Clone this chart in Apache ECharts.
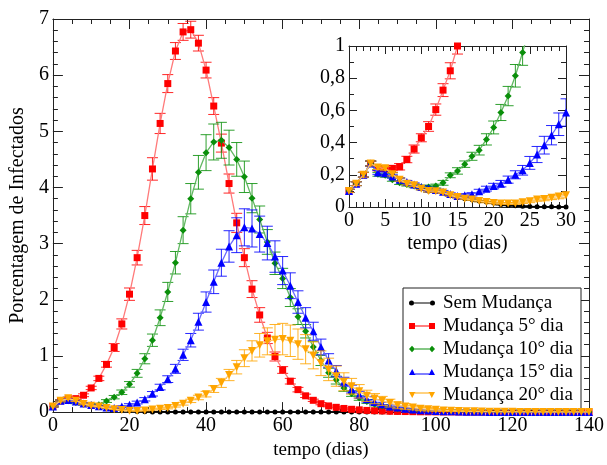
<!DOCTYPE html>
<html><head><meta charset="utf-8">
<script src="https://cdn.jsdelivr.net/npm/echarts@6/dist/echarts.min.js"></script>
<style>html,body{margin:0;padding:0;background:#fff}#c{width:607px;height:465px}</style>
</head><body><div id="c"></div>
<script>
// ---------------- DATA ----------------
const seriesNames = ['Sem Mudança', 'Mudança 5° dia', 'Mudança 10° dia', 'Mudança 15° dia', 'Mudança 20° dia'];

// main plot: every 2 days, 0..140
const daysMain = [0,2,4,6,8,10,12,14,16,18,20,22,24,26,28,30,32,34,36,38,40,42,44,46,48,50,52,54,56,58,60,62,64,66,68,70,72,74,76,78,80,82,84,86,88,90,92,94,96,98,100,102,104,106,108,110,112,114,116,118,120,122,124,126,128,130,132,134,136,138,140];

const semMain = [0.10,0.20,0.245,0.203,0.145,0.114,0.098,0.073,0.052,0.037,
 0.025,0.012,0.007,0.004,0.003,0.002,0.001,0,0,0,
 0,0,0,0,0,0,0,0,0,0, 0,0,0,0,0,0,0,0,0,0, 0,0,0,0,0,0,0,0,0,0, 0,0,0,0,0,0,0,0,0,0, 0];
const semErr = [0.01,0.015,0.02,0.015,0.012,0.01,0.008,0.006,0.005,0.005,
 0.005,0.004,0.003,0.002,0.002,0.001,0.001,0,0,0,
 0,0,0,0,0,0,0,0,0,0, 0,0,0,0,0,0,0,0,0,0, 0,0,0,0,0,0,0,0,0,0, 0,0,0,0,0,0,0,0,0,0, 0];

const m5Main = [0.10,0.20,0.24,0.24,0.30,0.43,0.60,0.85,1.15,1.57,
 2.10,2.75,3.50,4.33,5.14,5.85,6.43,6.77,6.81,6.57,
 6.09,5.45,4.79,4.07,3.37,2.75,2.19,1.73,1.32,0.99,
 0.75,0.55,0.40,0.29,0.21,0.15,0.11,0.085,0.065,0.05,
 0.04,0.03,0.025,0.02,0.015,0.012,0.01,0.008,0.006,0.005,
 0.004,0.003,0.003,0.002,0.002,0.002,0.001,0.001,0.001,0.001,
 0,0,0,0,0,0,0,0,0,0,0];
const m5Err = [0.01,0.015,0.02,0.02,0.025,0.03,0.04,0.05,0.07,0.09,
 0.11,0.13,0.16,0.2,0.18,0.16,0.15,0.15,0.15,0.14,
 0.14,0.15,0.16,0.17,0.17,0.16,0.15,0.13,0.1,0.08,
 0.06,0.05,0.04,0.03,0.02,0.02,0.015,0.01,0.01,0.01,
 0.008,0.006,0.005,0.005,0.004,0.003,0.003,0.002,0.002,0.002,
 0.002,0.001,0.001,0.001,0.001,0.001,0.001,0.001,0.001,0.001,
 0,0,0,0,0,0,0,0,0,0,0];

const m10Main = [0.10,0.20,0.203,0.17,0.14,0.125,0.13,0.197,0.266,0.353,
 0.494,0.69,0.95,1.28,1.68,2.14,2.66,3.24,3.80,4.27,
 4.62,4.81,4.84,4.71,4.50,4.19,3.81,3.43,3.03,2.65,
 2.38,2.04,1.70,1.44,1.16,0.92,0.70,0.57,0.43,0.33,
 0.25,0.19,0.14,0.11,0.08,0.06,0.045,0.035,0.025,0.02,
 0.015,0.012,0.01,0.008,0.006,0.005,0.004,0.003,0.003,0.002,
 0.002,0.002,0.001,0.001,0.001,0.001,0,0,0,0,0];
const m10Err = [0.01,0.015,0.02,0.02,0.015,0.015,0.02,0.025,0.03,0.04,
 0.05,0.07,0.09,0.11,0.14,0.17,0.2,0.24,0.27,0.3,
 0.32,0.32,0.32,0.31,0.3,0.28,0.26,0.24,0.22,0.2,
 0.18,0.16,0.14,0.12,0.1,0.09,0.08,0.07,0.06,0.05,
 0.04,0.035,0.03,0.025,0.02,0.015,0.012,0.01,0.008,0.006,
 0.005,0.004,0.004,0.003,0.003,0.002,0.002,0.002,0.002,0.001,
 0.001,0.001,0.001,0.001,0.001,0.001,0.001,0.001,0.001,0.001,0.001];

const m15Main = [0.10,0.20,0.215,0.19,0.155,0.125,0.105,0.08,0.073,0.098,
 0.13,0.17,0.228,0.326,0.446,0.587,0.77,1.02,1.28,1.61,
 1.96,2.32,2.66,2.95,3.15,3.29,3.27,3.17,3.01,2.77,
 2.52,2.25,1.96,1.68,1.44,1.16,0.92,0.73,0.54,0.41,
 0.31,0.23,0.18,0.14,0.10,0.08,0.06,0.045,0.035,0.027,
 0.02,0.016,0.013,0.01,0.008,0.006,0.005,0.004,0.004,0.003,
 0.003,0.002,0.002,0.002,0.001,0.001,0.001,0.001,0,0,0];
const m15Err = [0.01,0.015,0.02,0.02,0.015,0.015,0.012,0.01,0.01,0.015,
 0.02,0.025,0.03,0.04,0.05,0.06,0.08,0.1,0.12,0.15,
 0.18,0.21,0.24,0.28,0.31,0.33,0.33,0.32,0.3,0.28,
 0.25,0.23,0.2,0.18,0.16,0.14,0.12,0.1,0.08,0.07,
 0.06,0.05,0.04,0.035,0.03,0.025,0.02,0.015,0.012,0.01,
 0.008,0.006,0.005,0.004,0.004,0.003,0.003,0.002,0.002,0.002,
 0.002,0.001,0.001,0.001,0.001,0.001,0.001,0.001,0.001,0.001,0.001];

const m20Main = [0.10,0.20,0.245,0.203,0.145,0.114,0.098,0.073,0.052,0.037,
 0.025,0.021,0.029,0.046,0.058,0.073,0.11,0.15,0.20,0.26,
 0.32,0.41,0.52,0.66,0.80,0.96,1.09,1.19,1.26,1.29,
 1.30,1.27,1.21,1.12,1.01,0.87,0.76,0.64,0.54,0.46,
 0.37,0.29,0.24,0.20,0.16,0.12,0.10,0.08,0.06,0.05,
 0.04,0.03,0.025,0.02,0.016,0.013,0.01,0.008,0.007,0.006,
 0.005,0.004,0.003,0.003,0.002,0.002,0.002,0.001,0.001,0.001,0.001];
const m20Err = [0.01,0.015,0.02,0.015,0.012,0.01,0.008,0.006,0.005,0.005,
 0.005,0.005,0.008,0.01,0.012,0.015,0.02,0.025,0.03,0.04,
 0.05,0.06,0.08,0.1,0.12,0.15,0.18,0.21,0.24,0.27,
 0.28,0.28,0.27,0.26,0.24,0.22,0.2,0.18,0.16,0.14,
 0.12,0.1,0.09,0.08,0.07,0.06,0.05,0.04,0.035,0.03,
 0.025,0.02,0.015,0.012,0.01,0.008,0.007,0.006,0.005,0.004,
 0.004,0.003,0.003,0.002,0.002,0.002,0.002,0.001,0.001,0.001,0.001];

// inset: daily, 0..30
const daysInset = [0,1,2,3,4,5,6,7,8,9,10,11,12,13,14,15,16,17,18,19,20,21,22,23,24,25,26,27,28,29,30];
const semInset = [0.10,0.145,0.20,0.27,0.245,0.24,0.203,0.17,0.145,0.135,0.114,0.10,0.098,0.09,0.073,0.062,0.052,0.046,0.037,0.031,0.025,0.015,0.01,0.007,0.005,0.003,0.002,0.001,0.001,0,0];
const semInsetErr = [0.01,0.012,0.015,0.015,0.012,0.012,0.01,0.01,0.008,0.008,0.007,0.007,0.006,0.006,0.005,0.005,0.004,0.004,0.004,0.003,0.003,0.003,0.002,0.002,0.002,0.001,0.001,0.001,0.001,0,0];
const m5Inset = [0.10,0.145,0.20,0.27,0.24,0.235,0.24,0.25,0.295,0.36,0.43,0.50,0.605,0.726,0.846,1.0];
const m5InsetErr = [0.01,0.012,0.015,0.015,0.015,0.015,0.015,0.02,0.02,0.025,0.025,0.03,0.035,0.04,0.05,0.05];
const m10Inset = [0.10,0.145,0.20,0.27,0.203,0.197,0.17,0.15,0.14,0.13,0.125,0.125,0.13,0.15,0.197,0.224,0.266,0.315,0.353,0.42,0.494,0.587,0.689,0.815,0.96,1.12];
const m10InsetErr = [0.01,0.012,0.015,0.015,0.012,0.012,0.01,0.01,0.01,0.01,0.01,0.01,0.012,0.015,0.015,0.02,0.02,0.025,0.03,0.035,0.04,0.05,0.06,0.07,0.08,0.09];
const m15Inset = [0.10,0.145,0.20,0.27,0.215,0.21,0.19,0.17,0.155,0.14,0.125,0.115,0.105,0.095,0.08,0.068,0.073,0.079,0.098,0.114,0.13,0.145,0.17,0.20,0.228,0.274,0.326,0.384,0.446,0.514,0.587];
const m15InsetErr = [0.01,0.012,0.015,0.015,0.012,0.012,0.01,0.01,0.01,0.01,0.008,0.008,0.008,0.008,0.008,0.008,0.01,0.01,0.012,0.015,0.017,0.02,0.022,0.025,0.03,0.04,0.05,0.055,0.06,0.07,0.085];
const m20Inset = [0.10,0.145,0.20,0.27,0.245,0.24,0.203,0.17,0.145,0.135,0.114,0.10,0.098,0.09,0.073,0.062,0.052,0.046,0.037,0.031,0.025,0.022,0.021,0.022,0.029,0.035,0.046,0.05,0.058,0.065,0.073];
const m20InsetErr = [0.01,0.012,0.015,0.015,0.012,0.012,0.01,0.01,0.008,0.008,0.007,0.007,0.006,0.006,0.005,0.005,0.005,0.005,0.005,0.005,0.005,0.005,0.006,0.006,0.007,0.008,0.01,0.011,0.012,0.014,0.016];

// ---------------- STYLE ----------------
const FONT = 'Liberation Serif';
const colors = ['#000000', '#ff0000', '#0a8f0a', '#0000ff', '#ffa500'];
const lineColors = ['#000000', '#ff7a7a', '#62b862', '#6a6aff', '#ffc766'];
const symbols = ['circle', 'rect', 'diamond', 'triangle', 'triangle'];
const symSizes = [5, 7, 7, 8, 8];
const symRot = [0, 0, 0, 0, 180];
const legendIcons = [
  'path://M0,0 L0,0 Z M26,7 L26,7 Z M0,3.5 A2.5,2.5 0 1 1 5,3.5 A2.5,2.5 0 1 1 0,3.5 Z M5,3 L21,3 L21,4 L5,4 Z M21,3.5 A2.5,2.5 0 1 1 26,3.5 A2.5,2.5 0 1 1 21,3.5 Z',
  'path://M0,0 L0,0 Z M26,7 L26,7 Z M0,0.5 L6,0.5 L6,6.5 L0,6.5 Z M6,3 L20,3 L20,4 L6,4 Z M20,0.5 L26,0.5 L26,6.5 L20,6.5 Z',
  'path://M0,0 L0,0 Z M26,7 L26,7 Z M0,3.5 L3,0.3 L6,3.5 L3,6.7 Z M6,3 L20,3 L20,4 L6,4 Z M20,3.5 L23,0.3 L26,3.5 L23,6.7 Z',
  'path://M0,0 L0,0 Z M26,7 L26,7 Z M0,6.5 L3.2,0.5 L6.4,6.5 Z M6,5 L20,5 L20,6 L6,6 Z M19.6,6.5 L22.8,0.5 L26,6.5 Z',
  'path://M0,0 L0,0 Z M26,7 L26,7 Z M0,0.5 L6.4,0.5 L3.2,6.5 Z M6,1 L20,1 L20,2 L6,2 Z M19.6,0.5 L26,0.5 L22.8,6.5 Z'
];

const mainVals = [semMain, m5Main, m10Main, m15Main, m20Main];
const mainErrs = [semErr, m5Err, m10Err, m15Err, m20Err];
const insetVals = [semInset, m5Inset, m10Inset, m15Inset, m20Inset];
const insetErrs = [semInsetErr, m5InsetErr, m10InsetErr, m15InsetErr, m20InsetErr];

function errRender(color, half) {
  return function (params, api) {
    const x = api.value(0), y = api.value(1), e = api.value(2);
    const p1 = api.coord([x, y + e]);
    const p2 = api.coord([x, y - e]);
    const st = { stroke: color, lineWidth: 1, opacity: 0.85 };
    return {
      type: 'group',
      children: [
        { type: 'line', shape: { x1: p1[0], y1: p1[1], x2: p2[0], y2: p2[1] }, style: st },
        { type: 'line', shape: { x1: p1[0] - half, y1: p1[1], x2: p1[0] + half, y2: p1[1] }, style: st },
        { type: 'line', shape: { x1: p2[0] - half, y1: p2[1], x2: p2[0] + half, y2: p2[1] }, style: st }
      ]
    };
  };
}

const axisCol = '#222';
function axis(extra) {
  return Object.assign({
    type: 'value',
    axisLine: { show: true, onZero: false, lineStyle: { color: axisCol, width: 1 } },
    axisTick: { show: true, inside: true, length: 10, lineStyle: { color: axisCol } },
    minorTick: { show: true, length: 5, lineStyle: { color: axisCol } },
    splitLine: { show: false },
    minorSplitLine: { show: false },
    axisLabel: { show: true, color: '#000', fontFamily: FONT, fontSize: 20, margin: 4, showMinLabel: true, showMaxLabel: true },
    nameTextStyle: { color: '#000', fontFamily: FONT, fontSize: 19 }
  }, extra);
}

const series = [];
for (let s = 0; s < 5; s++) {
  // main errors
  series.push({
    type: 'custom', name: 'errMain' + s, xAxisIndex: 0, yAxisIndex: 0, clip: true, z: 2 + s,
    renderItem: errRender(colors[s], 5.5), encode: { x: 0, y: 1 },
    data: daysMain.map((d, i) => [d, mainVals[s][i], mainErrs[s][i]]),
    silent: true
  });
  series.push({
    type: 'line', name: seriesNames[s], xAxisIndex: 0, yAxisIndex: 0, z: 2 + s,
    data: daysMain.map((d, i) => [d, mainVals[s][i]]),
    symbol: symbols[s], symbolSize: symSizes[s], symbolRotate: symRot[s],
    itemStyle: { color: colors[s] }, lineStyle: { color: lineColors[s], width: 1.3 },
    showAllSymbol: true
  });
  // inset
  series.push({
    type: 'custom', name: 'errInset' + s, xAxisIndex: 2, yAxisIndex: 2, clip: true, z: 2 + s,
    renderItem: errRender(colors[s], 5.5), encode: { x: 0, y: 1 },
    data: insetVals[s].map((v, i) => [daysInset[i], v, insetErrs[s][i]]),
    silent: true
  });
  series.push({
    type: 'line', name: seriesNames[s], xAxisIndex: 2, yAxisIndex: 2, z: 2 + s, clip: true,
    data: insetVals[s].map((v, i) => [daysInset[i], v]),
    symbol: symbols[s], symbolSize: symSizes[s], symbolRotate: symRot[s],
    itemStyle: { color: colors[s] }, lineStyle: { color: lineColors[s], width: 1.3 },
    showAllSymbol: true
  });
}

const option = {
  animation: false,
  backgroundColor: '#fff',
  grid: [
    { left: 51, top: 19, width: 542, height: 404 },
    { left: 349, top: 46, width: 217, height: 161 }
  ],
  xAxis: [
    axis({ gridIndex: 0, position: 'bottom', min: 0, max: 140, interval: 20, minorTick: { show: true, splitNumber: 4, length: 5, lineStyle: { color: axisCol } },
      name: 'tempo (dias)', nameLocation: 'middle', nameGap: 23 }),
    axis({ gridIndex: 0, position: 'top', min: 0, max: 140, interval: 20, minorTick: { show: true, splitNumber: 4, length: 5, lineStyle: { color: axisCol } },
      axisLabel: { show: false } }),
    axis({ gridIndex: 1, position: 'bottom', min: 0, max: 30, interval: 5, axisTick: { show: true, inside: true, length: 8, lineStyle: { color: axisCol } },
      minorTick: { show: true, splitNumber: 5, length: 5, lineStyle: { color: axisCol } },
      name: 'tempo (dias)', nameLocation: 'middle', nameGap: 27, nameTextStyle: { color: '#000', fontFamily: FONT, fontSize: 20 } }),
    axis({ gridIndex: 1, position: 'top', min: 0, max: 30, interval: 5, axisTick: { show: true, inside: true, length: 8, lineStyle: { color: axisCol } },
      minorTick: { show: true, splitNumber: 5, length: 5, lineStyle: { color: axisCol } }, axisLabel: { show: false } })
  ],
  yAxis: [
    axis({ gridIndex: 0, position: 'left', min: 0, max: 7, interval: 1, minorTick: { show: true, splitNumber: 5, length: 5, lineStyle: { color: axisCol } },
      name: 'Porcentagem de Infectados', nameLocation: 'middle', nameGap: 22, nameTextStyle: { color: '#000', fontFamily: FONT, fontSize: 20 } }),
    axis({ gridIndex: 0, position: 'right', min: 0, max: 7, interval: 1, minorTick: { show: true, splitNumber: 5, length: 5, lineStyle: { color: axisCol } },
      axisLabel: { show: false } }),
    axis({ gridIndex: 1, position: 'left', min: 0, max: 1, interval: 0.2, axisTick: { show: true, inside: true, length: 8, lineStyle: { color: axisCol } },
      minorTick: { show: true, splitNumber: 2, length: 5, lineStyle: { color: axisCol } },
      axisLabel: { show: true, color: '#000', fontFamily: FONT, fontSize: 20, margin: 4, showMinLabel: true, showMaxLabel: true,
        formatter: v => (v === 0 ? '0' : (v === 1 ? '1' : v.toFixed(1).replace('.', ','))) } }),
    axis({ gridIndex: 1, position: 'right', min: 0, max: 1, interval: 0.2, axisTick: { show: true, inside: true, length: 8, lineStyle: { color: axisCol } },
      minorTick: { show: true, splitNumber: 2, length: 5, lineStyle: { color: axisCol } }, axisLabel: { show: false } })
  ],
  legend: {
    left: 403, top: 288, orient: 'vertical',
    padding: [5, 8, 5, 6], itemGap: 3, itemWidth: 26, itemHeight: 7,
    borderColor: '#222', borderWidth: 1, backgroundColor: '#fff', borderRadius: 0,
    textStyle: { color: '#000', fontFamily: FONT, fontSize: 19, lineHeight: 20, padding: [0, 0, 0, 3] },
    data: seriesNames.map((n, i) => ({ name: n, icon: legendIcons[i] })),
    selectedMode: false
  },
  series: series
};

const chart = echarts.init(document.getElementById('c'), null, { renderer: 'canvas' });
chart.setOption(option);
</script>
</body></html>
